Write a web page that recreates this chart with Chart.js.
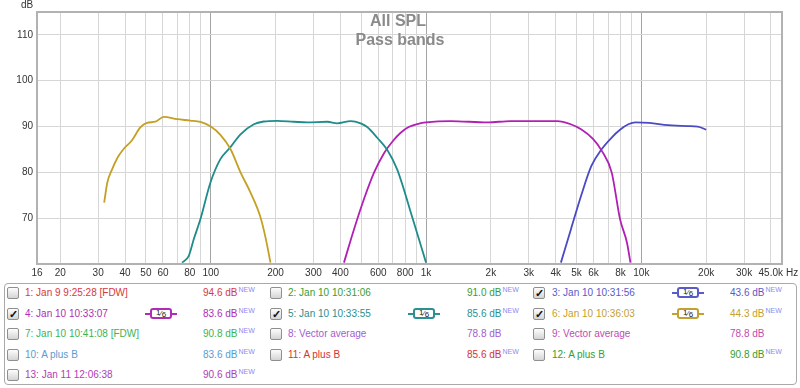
<!DOCTYPE html>
<html>
<head>
<meta charset="utf-8">
<script src="https://cdn.jsdelivr.net/npm/chart.js@4/dist/chart.umd.min.js"></script>
<style>
body { margin:0; background:#fff; font-family:"Liberation Sans", Arial, sans-serif; }
#wrap { position:relative; width:800px; height:388px; overflow:hidden; }
#graph { position:absolute; left:0; top:0; }
#legend { position:absolute; left:4px; top:283px; width:793px; height:102px; box-sizing:border-box; border:1px solid #a9a9a9; border-radius:4px; }
.txt { position:absolute; font-size:10px; line-height:12px; white-space:nowrap; }
.txt sup { font-size:7px; color:#8c8cf0; vertical-align:4px; line-height:0; margin-left:1px; }
.cb { position:absolute; width:12px; height:12px; box-sizing:border-box; border:1px solid #8f8f8f; border-radius:2px; background:linear-gradient(#fdfdfd,#d4d4d4); font-size:11px; line-height:10px; text-align:center; font-weight:bold; color:#111; }
.flt { position:absolute; width:32px; height:11px; }
.flt .ln { position:absolute; top:5px; width:5px; height:2px; }
.flt .bx { position:absolute; left:5px; top:0; width:22px; height:11px; box-sizing:border-box; border:2px solid; border-radius:3px; background:#fff; font-size:8px; line-height:7px; text-align:center; color:#222; white-space:nowrap; }
.flt .bx span { position:relative; }
</style>
</head>
<body>
<div id="wrap">
  <canvas id="graph" width="800" height="280"></canvas>
  <div id="legend"></div>
</div>
<script>
// measured curves (Hz / dB)
const goldFreq = [32.0, 33.1, 34.7, 37, 39.4, 43.1, 47.1, 50.6, 55.3, 60.5, 69.8, 80.4, 89.6, 100, 110.9, 123.5, 137.5, 153, 170, 180, 189.5];
const goldDb   = [73.4, 77.8, 80.5, 83.3, 85.1, 87.0, 89.8, 90.8, 91.05, 92.1, 91.6, 91.3, 91.0, 90.0, 88.2, 85.1, 80.0, 75.6, 70.3, 65.6, 60.3];

const tealFreq = [73.6, 79.1, 83.4, 89.6, 99.7, 110.9, 123.5, 137.5, 158.6, 176.3, 203, 243, 281, 348, 387, 447, 497, 533, 595, 661, 735, 868, 1000];
const tealDb   = [60.3, 61.8, 65.4, 69.8, 77.8, 82.9, 85.5, 88.3, 90.5, 91.1, 91.25, 91.05, 90.9, 91.05, 90.7, 91.2, 90.7, 89.9, 87.5, 84.9, 80.6, 69.8, 60.3];

const magentaFreq = [415.7, 463, 515, 574, 640, 700, 760, 830, 920, 1000, 1300, 1930, 2470, 3180, 4070, 4700, 5250, 5960, 6550, 7280, 7960, 8570, 8900];
const magentaDb   = [60.3, 67.6, 74.2, 80.0, 84.3, 86.8, 88.6, 89.9, 90.6, 90.9, 91.2, 90.9, 91.2, 91.2, 91.2, 90.5, 89.4, 87.3, 84.7, 80.0, 69.8, 64.7, 60.3];

const blueFreq = [4230, 4710, 5250, 5860, 6550, 7280, 7960, 8700, 9400, 10900, 13300, 16400, 18300, 20000];
const blueDb   = [60.3, 67.6, 74.9, 81.4, 85.1, 87.6, 89.3, 90.5, 90.9, 90.8, 90.3, 90.1, 90.0, 89.3];

// axis ticks
const xGrid = [20,30,40,50,60,70,80,90,100,200,300,400,500,600,700,800,900,
               1000,2000,3000,4000,5000,6000,7000,8000,9000,10000,20000,30000,40000];
const xLabeled = [16,20,30,40,50,60,80,100,200,300,400,600,800,1000,2000,3000,4000,5000,6000,8000,10000,20000,30000];
const yTicks = [70, 80, 90, 100, 110];

// legend rows
const legNames = ["1: Jan 9 9:25:28 [FDW]", "2: Jan 10 10:31:06", "3: Jan 10 10:31:56",
                  "4: Jan 10 10:33:07", "5: Jan 10 10:33:55", "6: Jan 10 10:36:03",
                  "7: Jan 10 10:41:08 [FDW]", "8: Vector average", "9: Vector average",
                  "10: A plus B", "11: A plus B", "12: A plus B", "13: Jan 11 12:06:38"];
const legValues = ["94.6 dB", "91.0 dB", "43.6 dB", "83.6 dB", "85.6 dB", "44.3 dB", "90.8 dB",
                   "78.8 dB", "78.8 dB", "83.6 dB", "85.6 dB", "90.8 dB", "90.6 dB"];
const legNew = [true, true, true, true, true, true, true, false, false, true, true, true, true];
const legChecked = [false, false, true, true, true, true, false, false, false, false, false, false, false];
const legColors = ["#d8383c", "#3c9c30", "#5a5ac8", "#b02cb4", "#2a9090", "#c4a030", "#3cb450",
                   "#a45cd0", "#c04cb0", "#5a9cd0", "#d43434", "#32a032", "#b040b4"];

const MIN_F = 15.6, MAX_F = 45000;

function pts(f, d) { return f.map((v, i) => ({ x: v, y: d[i] })); }

function line(f, d, color) {
    return {
        data: pts(f, d),
        borderColor: color,
        borderWidth: 1.8,
        pointRadius: 0,
        cubicInterpolationMode: "monotone",
        fill: false
    };
}

const overlay = {
    id: "overlay",
    afterDatasetsDraw(chart) {
        const a = chart.chartArea, c = chart.ctx;
        c.save();
        c.strokeStyle = "#b2b2b2";
        c.lineWidth = 2;
        c.strokeRect(a.left, a.top, a.right - a.left, a.bottom - a.top);
        c.restore();
    },
    afterDraw(chart) {
        const a = chart.chartArea, c = chart.ctx;
        c.save();
        c.fillStyle = "#8a8a8a";
        c.font = "bold 16px 'Liberation Sans', Arial, sans-serif";
        c.textAlign = "center";
        c.textBaseline = "alphabetic";
        c.fillText("All SPL", 398, 26);
        c.fillText("Pass bands", 400, 45);
        c.fillStyle = "#333";
        c.font = "10px 'Liberation Sans', Arial, sans-serif";
        c.fillText("dB", 27, 8);
        c.textAlign = "right";
        c.textBaseline = "middle";
        c.fillText("45.0k", a.right + 1, 273);
        c.textAlign = "left";
        c.fillText("Hz", a.right + 4, 273);
        c.restore();
    }
};

const ctx = document.getElementById("graph").getContext("2d");

new Chart(ctx, {
    type: "line",
    data: {
        datasets: [
            line(goldFreq, goldDb, "#c4a024"),
            line(tealFreq, tealDb, "#1f8c8c"),
            line(magentaFreq, magentaDb, "#b020b4"),
            line(blueFreq, blueDb, "#4a4ac4")
        ]
    },
    options: {
        responsive: false,
        animation: false,
        layout: { padding: { top: 12, right: 18, left: 0, bottom: 0 } },
        plugins: { legend: { display: false }, tooltip: { enabled: false } },
        scales: {
            x: {
                type: "logarithmic",
                min: MIN_F,
                max: MAX_F,
                afterBuildTicks: s => {
                    s.ticks = [MIN_F].concat(xGrid, [MAX_F]).map(v => ({ value: v }));
                },
                afterFit: s => { s.height = 16; },
                ticks: {
                    autoSkip: false,
                    maxRotation: 0,
                    minRotation: 0,
                    padding: 3,
                    color: "#333",
                    font: { family: "'Liberation Sans', Arial, sans-serif", size: 10 },
                    callback: v => {
                        if (v === MIN_F) return "16";
                        if (!xLabeled.includes(v)) return "";
                        return v >= 1000 ? (v / 1000) + "k" : String(v);
                    }
                },
                grid: {
                    drawTicks: false,
                    color: c => {
                        const v = c.tick ? c.tick.value : 0;
                        if (v === MIN_F || v === MAX_F) return "rgba(0,0,0,0)";
                        if (v === 100 || v === 1000 || v === 10000) return "#a4a4a4";
                        return "#d6d6d6";
                    }
                },
                border: { display: false }
            },
            y: {
                min: 60,
                max: 115,
                afterBuildTicks: s => { s.ticks = yTicks.map(v => ({ value: v })); },
                afterFit: s => { s.width = 37; },
                ticks: {
                    padding: 4,
                    color: "#333",
                    font: { family: "'Liberation Sans', Arial, sans-serif", size: 10 }
                },
                grid: { drawTicks: false, color: "#d6d6d6" },
                border: { display: false }
            }
        }
    },
    plugins: [overlay]
});

// legend table below the graph
const wrap = document.getElementById("wrap");
const colCb = [7, 270, 533], colName = [25, 288, 552], colFlt = [145, 408, 672], colVal = [203, 467, 730];
const rowY = [293, 313.5, 334, 354.5, 375];

function add(html) { wrap.insertAdjacentHTML("beforeend", html); }

legNames.forEach((name, i) => {
    const r = Math.floor(i / 3), k = i % 3, y = rowY[r], col = legColors[i];
    add(`<div class="cb" style="left:${colCb[k]}px;top:${y - 6}px">${legChecked[i] ? "&#10003;" : ""}</div>`);
    add(`<div class="txt" style="left:${colName[k]}px;top:${y - 6}px;color:${col}">${name}</div>`);
    if (legChecked[i]) {
        add(`<div class="flt" style="left:${colFlt[k]}px;top:${y - 6}px">` +
            `<span class="ln" style="left:0;background:${col}"></span>` +
            `<span class="bx" style="border-color:${col}"><span style="top:-1px">1</span>&#8260;<span style="top:1px">6</span></span>` +
            `<span class="ln" style="left:27px;background:${col}"></span></div>`);
    }
    add(`<div class="txt" style="left:${colVal[k]}px;top:${y - 6}px;color:${col}">${legValues[i]}${legNew[i] ? "<sup>NEW</sup>" : ""}</div>`);
});
</script>
</body>
</html>
